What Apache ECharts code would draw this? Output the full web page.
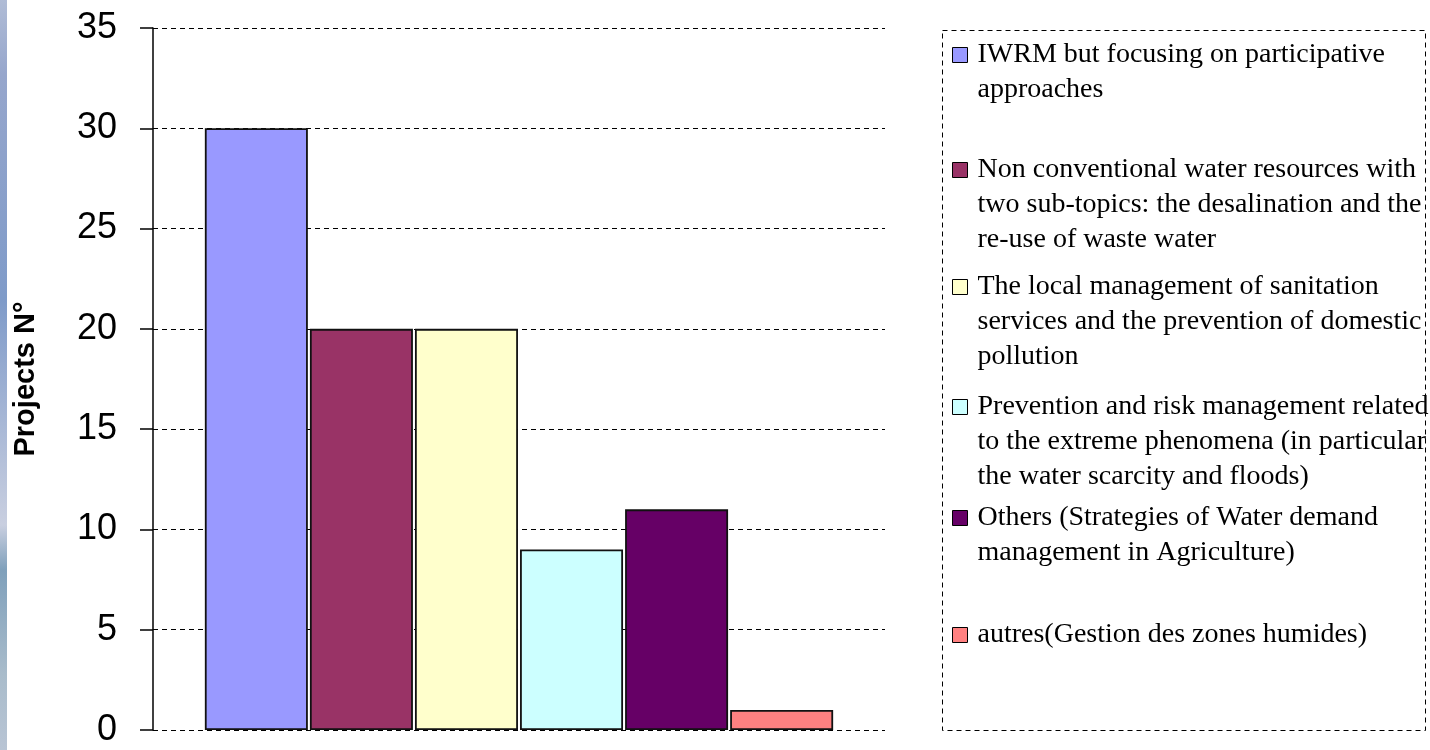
<!DOCTYPE html>
<html>
<head>
<meta charset="utf-8">
<script src="https://cdn.jsdelivr.net/npm/echarts@6/dist/echarts.min.js"></script>
<style>
html,body{margin:0;padding:0;background:#fff;}
#chart{width:1430px;height:750px;}
</style>
</head>
<body>
<div id="chart"></div>
<script>
// ---- data ----
const category = ['Projects'];
const legendLines = [
  ['IWRM but focusing on participative', 'approaches'],
  ['Non conventional water resources with', 'two sub-topics: the desalination and the', 're-use of waste water'],
  ['The local management of sanitation', 'services and the prevention of domestic', 'pollution'],
  ['Prevention and risk management related', 'to the extreme phenomena (in particular', 'the water scarcity and floods)'],
  ['Others (Strategies of Water demand', 'management in Agriculture)'],
  ['autres(Gestion des zones humides)']
];
const seriesValues = [30, 20, 20, 9, 11, 1];
const seriesColors = ['#9999FF', '#993366', '#FFFFCC', '#CCFFFF', '#660066', '#FF8080'];
const yAxisName = 'Projects N°';
const yMin = 0, yMax = 35, yInterval = 5;

// ---- layout helpers ----
const seriesNames = legendLines.map(l => l.join(' '));
const lineH = 35;
const firstLineCenters = [55, 170, 287, 407, 518, 635];

const legends = legendLines.map((lines, i) => {
  const n = lines.length;
  // pad with empty lines on top so the icon lines up with the first text line
  const text = '\n'.repeat(n - 1) + lines.join('\n');
  return {
    data: [seriesNames[i]],
    orient: 'vertical',
    left: 952,
    top: firstLineCenters[i] - (2 * n - 1) * lineH / 2,
    padding: 0,
    itemWidth: 15,
    itemHeight: 15,
    icon: 'rect',
    selectedMode: false,
    itemStyle: { borderColor: '#000', borderWidth: 1 },
    formatter: () => text,
    textStyle: {
      fontFamily: 'Liberation Serif',
      fontSize: 28,
      color: '#000',
      lineHeight: lineH,
      padding: [0, 0, 0, 5]
    }
  };
});

const series = seriesNames.map((name, i) => ({
  name: name,
  type: 'bar',
  data: [seriesValues[i]],
  barWidth: 103,
  barGap: '2%',
  itemStyle: { color: seriesColors[i], borderColor: '#111', borderWidth: 1.8 },
  emphasis: { disabled: true }
}));

const chart = echarts.init(document.getElementById('chart'));
chart.setOption({
  animation: false,
  backgroundColor: '#fff',
  grid: { left: 153, right: 545, top: 28, bottom: 20, containLabel: false, outerBoundsMode: 'none' },
  xAxis: {
    type: 'category',
    data: category,
    axisLine: { show: false },
    axisTick: { show: false },
    axisLabel: { show: false }
  },
  yAxis: {
    type: 'value',
    min: yMin, max: yMax, interval: yInterval,
    name: yAxisName,
    nameLocation: 'middle',
    nameGap: 113,
    nameRotate: 90,
    nameTextStyle: { fontFamily: 'Liberation Sans', fontWeight: 'bold', fontSize: 29, color: '#000' },
    axisLine: { show: true, lineStyle: { color: '#000', width: 1.5 } },
    axisTick: { show: true, inside: false, length: 13, lineStyle: { color: '#000', width: 1.5 } },
    axisLabel: { margin: 36, fontFamily: 'Liberation Sans', fontSize: 36, color: '#000' },
    splitLine: { show: true, lineStyle: { color: '#000', type: [5, 4], width: 1 } }
  },
  legend: legends,
  series: series,
  graphic: [
    {
      type: 'rect', left: 0, top: 0, silent: true,
      shape: { width: 7, height: 750 },
      style: {
        fill: {
          type: 'linear', x: 0, y: 0, x2: 0, y2: 1,
          colorStops: [
            { offset: 0, color: '#b0bcd6' },
            { offset: 0.1, color: '#96a6cc' },
            { offset: 0.4, color: '#7f9bc9' },
            { offset: 0.7, color: '#c9cfe0' },
            { offset: 0.76, color: '#7fa0bb' },
            { offset: 0.9, color: '#a9bccb' },
            { offset: 1, color: '#b8c4d4' }
          ]
        }
      }
    },
    {
      type: 'rect', left: 940, top: 28, silent: true, z: -1,
      shape: { width: 483, height: 700 },
      style: { fill: 'none', stroke: '#000', lineWidth: 1, lineDash: [5, 4] }
    }
  ]
});
</script>
</body>
</html>
